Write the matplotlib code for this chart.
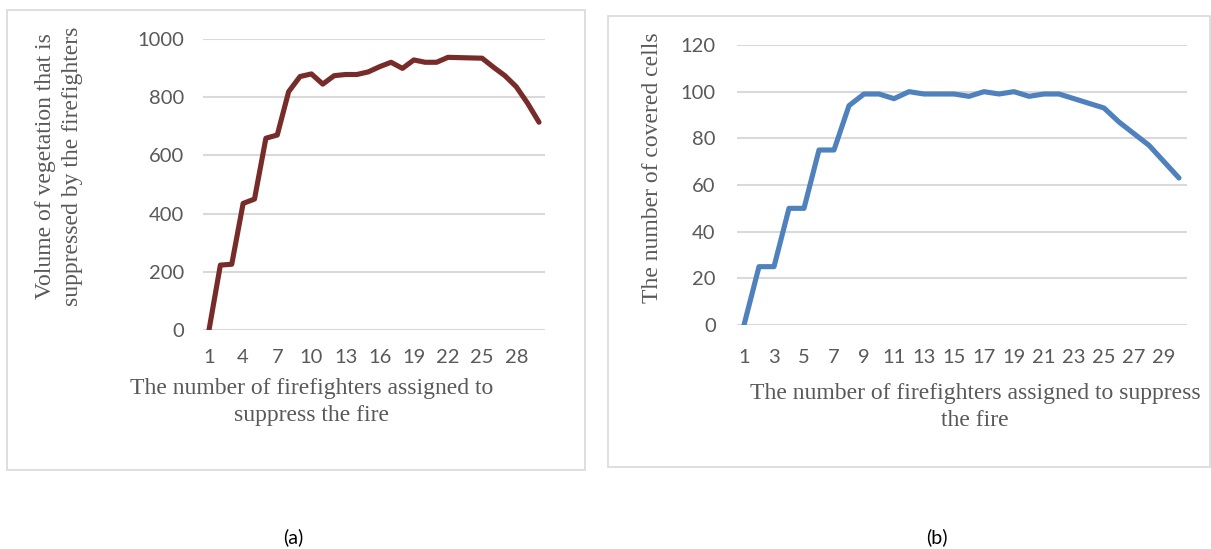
import matplotlib
matplotlib.use("Agg")
import matplotlib.pyplot as plt
from matplotlib.patches import Rectangle

# firefighters assigned (1..30)
firefighters = list(range(1, 31))

# (a) volume of vegetation suppressed
volume = [0, 223, 226, 435, 450, 659, 670, 819, 871, 880,
          845, 874, 878, 878, 887, 905, 920, 899, 928, 920,
          920, 937, 936, 935, 934, 903, 874, 836, 779, 714]

# (b) number of covered cells
cells = [0, 25, 25, 50, 50, 75, 75, 94, 99, 99,
         97, 100, 99, 99, 99, 98, 100, 99, 100, 98,
         99, 99, 97, 95, 93, 87, 82, 77, 70, 63]

ticks_a = list(range(1, 31, 3))
ticks_b = list(range(1, 31, 2))

W, H = 1211, 549
TXT = "#595959"
GRID = "#D9D9D9"
SERIF = "Liberation Serif"
SANS = "Lato"
TITLE_FS = 17
LSP = 1.35


def px_box(x0, y_top, x1, y_bot):
    # pixel box -> figure fraction [left, bottom, width, height]
    return [x0 / W, 1 - y_bot / H, (x1 - x0) / W, (y_bot - y_top) / H]


def style_axes(ax, ymax, ystep, xt, xpad, ypad):
    ax.set_xlim(0.5, 30.5)
    ax.set_ylim(0, ymax)
    ax.set_yticks(range(0, ymax + 1, ystep))
    ax.set_xticks(xt)
    ax.grid(axis="y", color=GRID, lw=1.5)
    ax.set_axisbelow(True)
    for s in ax.spines.values():
        s.set_visible(False)
    ax.tick_params(axis="both", length=0, labelsize=14.5, labelcolor=TXT)
    ax.tick_params(axis="x", pad=xpad)
    ax.tick_params(axis="y", pad=ypad)
    for lab in ax.get_xticklabels() + ax.get_yticklabels():
        lab.set_fontfamily(SANS)


fig = plt.figure(figsize=(W / 100, H / 100), dpi=100)

# panel frames
for x0, y0, x1, y1 in [(7, 10, 585, 470), (608, 16, 1210, 467)]:
    fig.patches.append(Rectangle((x0 / W, 1 - y1 / H), (x1 - x0) / W, (y1 - y0) / H,
                                 transform=fig.transFigure, fill=False,
                                 edgecolor=GRID, lw=1.2))

# (a)
ax1 = fig.add_axes(px_box(203.3, 39, 544.7, 330))
ax1.plot(firefighters, volume, color="#772C2A", lw=3.7, solid_capstyle="round",
         solid_joinstyle="round")
style_axes(ax1, 1000, 200, ticks_a, 14, 14)
fig.text(312 / W, 1 - 402 / H, "The number of firefighters assigned to\nsuppress the fire",
         ha="center", va="center", fontsize=TITLE_FS, color=TXT, family=SERIF,
         linespacing=LSP)
fig.text(59 / W, 1 - 166 / H, "Volume of vegetation that is\nsuppressed by the firefighters",
         ha="center", va="center", rotation=90, fontsize=TITLE_FS, color=TXT, family=SERIF,
         linespacing=LSP)

# (b)
ax2 = fig.add_axes(px_box(736.5, 45, 1186.5, 325))
ax2.plot(firefighters, cells, color="#4F81BD", lw=3.7, solid_capstyle="round",
         solid_joinstyle="round")
style_axes(ax2, 120, 20, ticks_b, 17, 15)
fig.text(975 / W, 1 - 407 / H, "The number of firefighters assigned to suppress\nthe fire",
         ha="center", va="center", fontsize=TITLE_FS, color=TXT, family=SERIF,
         linespacing=LSP)
fig.text(653 / W, 1 - 168 / H, "The number of covered cells",
         ha="center", va="center", rotation=90, fontsize=TITLE_FS, color=TXT, family=SERIF)

# captions
fig.text(293 / W, 1 - 537 / H, "(a)", ha="center", va="center", fontsize=14, family=SANS)
fig.text(937 / W, 1 - 537 / H, "(b)", ha="center", va="center", fontsize=14, family=SANS)

fig.savefig("out.png", dpi=100)
